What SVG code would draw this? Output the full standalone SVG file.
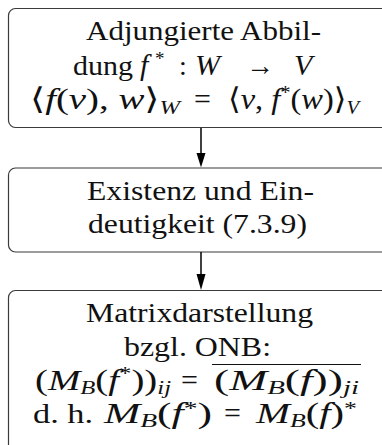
<svg xmlns="http://www.w3.org/2000/svg" width="382" height="445" viewBox="0 0 382 445">
<style>
.box{fill:#fff;stroke:#3a3a3a;stroke-width:1.2}
text{font-family:"Liberation Serif","DejaVu Serif",serif;font-size:28px;fill:#111}
.m{font-size:30px}
.i{font-style:italic}
.s{font-size:19px}
.conn line{stroke:#000;stroke-width:1.5}
.conn polygon{fill:#000}
</style>
<rect width="382" height="445" fill="#fff"/>
<g id="n1">
<rect class="box" x="8.5" y="8.5" width="386" height="119" rx="7"/>
<text x="86" y="40" textLength="235" lengthAdjust="spacingAndGlyphs">Adjungierte Abbil-</text>
<text y="74.5"><tspan x="73" textLength="60" lengthAdjust="spacingAndGlyphs">dung</tspan> <tspan x="140" class="i m">f</tspan><tspan class="s" x="155" dy="-10">*</tspan><tspan x="179" dy="10">:</tspan> <tspan x="195" class="i m">W</tspan> <tspan x="246">→</tspan> <tspan x="294" class="i m">V</tspan></text>
<text y="109" class="m"><tspan x="30" textLength="150" lengthAdjust="spacingAndGlyphs">⟨<tspan class="i">f</tspan>(<tspan class="i">v</tspan>), <tspan class="i">w</tspan>⟩<tspan class="s i" dy="5">W</tspan></tspan><tspan x="194" dy="-5">=</tspan> <tspan x="228" textLength="131" lengthAdjust="spacingAndGlyphs">⟨<tspan class="i">v</tspan>, <tspan class="i">f</tspan><tspan class="s" dy="-10">*</tspan><tspan dy="10">(</tspan><tspan class="i">w</tspan>)⟩<tspan class="s i" dy="5">V</tspan></tspan></text>
</g>
<g id="n2">
<rect class="box" x="8.5" y="168" width="386" height="84" rx="7"/>
<text x="87" y="199.5" textLength="227" lengthAdjust="spacingAndGlyphs">Existenz und Ein-</text>
<text x="88" y="233" textLength="219" lengthAdjust="spacingAndGlyphs">deutigkeit (7.3.9)</text>
</g>
<g id="n3">
<rect class="box" x="8.5" y="290.5" width="386" height="162" rx="7"/>
<text x="86" y="322" textLength="227" lengthAdjust="spacingAndGlyphs">Matrixdarstellung</text>
<text x="124" y="356" textLength="147" lengthAdjust="spacingAndGlyphs">bzgl. ONB:</text>
<text y="389.5" class="m"><tspan x="35" textLength="136" lengthAdjust="spacingAndGlyphs">(<tspan class="i">M</tspan><tspan class="s i" dy="4">B</tspan><tspan dy="-4">(</tspan><tspan class="i">f</tspan><tspan class="s" dy="-10">*</tspan><tspan dy="10">))</tspan><tspan class="s i" dy="4">ij</tspan></tspan><tspan x="181" dy="-4">=</tspan> <tspan x="214" textLength="145" lengthAdjust="spacingAndGlyphs">(<tspan class="i">M</tspan><tspan class="s i" dy="4">B</tspan><tspan dy="-4">(</tspan><tspan class="i">f</tspan>))<tspan class="s i" dy="4">ji</tspan></tspan></text>
<line x1="212" y1="364.5" x2="361" y2="364.5" stroke="#111" stroke-width="1.2"/>
<text y="423"><tspan x="33" textLength="60" lengthAdjust="spacingAndGlyphs">d. h.</tspan> <tspan class="m" x="104" textLength="108" lengthAdjust="spacingAndGlyphs"><tspan class="i">M</tspan><tspan class="s i" dy="4">B</tspan><tspan dy="-4">(</tspan><tspan class="i">f</tspan><tspan class="s" dy="-8">*</tspan><tspan dy="8">)</tspan></tspan> <tspan class="m" x="224">=</tspan> <tspan class="m" x="256" textLength="101" lengthAdjust="spacingAndGlyphs"><tspan class="i">M</tspan><tspan class="s i" dy="4">B</tspan><tspan dy="-4">(</tspan><tspan class="i">f</tspan>)<tspan class="s" dy="-8">*</tspan></tspan></text>
</g>
<g class="conn" id="connectors">
<line x1="201" y1="128" x2="201" y2="156"/>
<polygon points="196.5,153 205.5,153 201,167.5"/>
<line x1="201" y1="252" x2="201" y2="277"/>
<polygon points="196.5,274 205.5,274 201,290"/>
</g>
</svg>
